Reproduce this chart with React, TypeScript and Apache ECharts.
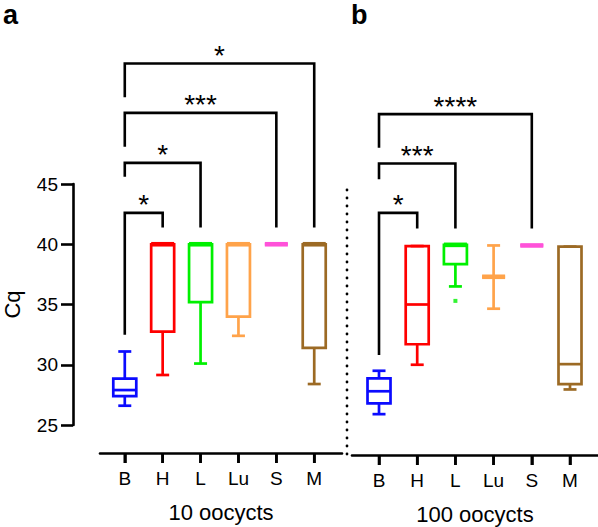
import React, { useEffect, useRef } from "react";
import * as echarts from "echarts";

const categories = ["B", "H", "L", "Lu", "S", "M"];
const yMin = 25;
const yMax = 45;
const yStep = 5;

// [whisker low, Q1, median, Q3, whisker high]
const boxes10 = [
  [26.6, 27.4, 27.9, 28.85, 31.1],
  [29.15, 32.75, 40, 40, 40],
  [30.1, 35.2, 40, 40, 40],
  [32.4, 34.0, 40, 40, 40],
  [40, 40, 40, 40, 40],
  [28.4, 31.4, 40, 40, 40],
];
const boxes100 = [
  [25.9, 26.8, 27.8, 28.87, 29.5],
  [30.0, 31.7, 35.0, 39.85, 39.85],
  [36.5, 38.35, 39.95, 39.95, 39.95],
  [34.65, 37.3, 37.3, 37.3, 39.9],
  [39.9, 39.9, 39.9, 39.9, 39.9],
  [27.95, 28.4, 30.05, 39.8, 39.8],
];
// [category index, value]
const outliers100 = [[2, 35.3]];

// [from index, to index, bar level, left end, right end]
const brackets10 = [
  [0, 1, 42.6, 32.5, 41.4],
  [0, 2, 46.75, 45.6, 41.4],
  [0, 4, 50.9, 48.1, 41.4],
  [0, 5, 55.0, 52.2, 41.4],
];
const stars10 = ["*", "*", "***", "*"];
const brackets100 = [
  [0, 1, 42.6, 30.8, 41.3],
  [0, 2, 46.7, 45.4, 41.3],
  [0, 4, 50.8, 48.0, 41.3],
];
const stars100 = ["*", "***", "****"];

const colors = ["#0b0bff", "#ff0000", "#00f000", "#ffa34a", "#ff52d9", "#9c6a24"];
const FONT = "'Liberation Sans', Arial, Helvetica, sans-serif";
const BLACK = "#000";
const AXIS_W = 2.6;

const boxRender = (params: any, api: any) => {
  const x = api.value(0);
  const lo = api.value(1);
  const q1 = api.value(2);
  const med = api.value(3);
  const q3 = api.value(4);
  const hi = api.value(5);
  const cx = api.coord([x, med])[0];
  const py = (v: number) => api.coord([x, v])[1];
  const yLo = py(lo), yQ1 = py(q1), yMed = py(med), yQ3 = py(q3), yHi = py(hi);
  const hb = 11.5;
  const hc = 6.5;
  const color = colors[Math.round(x)];
  const lw = 2.7;
  const st = { stroke: color, lineWidth: lw, fill: "none" };
  const thick = Math.abs(med - q3) < 0.05 || Math.abs(med - q1) < 0.05;
  return {
    type: "group",
    children: [
      { type: "line", shape: { x1: cx, y1: yQ3, x2: cx, y2: yHi }, style: st },
      { type: "line", shape: { x1: cx, y1: yQ1, x2: cx, y2: yLo }, style: st },
      { type: "line", shape: { x1: cx - hc, y1: yHi, x2: cx + hc, y2: yHi }, style: st },
      { type: "line", shape: { x1: cx - hc, y1: yLo, x2: cx + hc, y2: yLo }, style: st },
      { type: "rect", shape: { x: cx - hb, y: yQ3, width: hb * 2, height: yQ1 - yQ3 }, style: st },
      {
        type: "line",
        shape: { x1: cx - hb, y1: yMed, x2: cx + hb, y2: yMed },
        style: { ...st, lineWidth: thick ? 4.6 : lw },
      },
    ],
  };
};

const bracketRender = (labels: string[]) => (params: any, api: any) => {
  const a = api.value(0);
  const b = api.value(1);
  const lvl = api.value(2);
  const l = api.value(3);
  const r = api.value(4);
  const p1 = api.coord([a, l]);
  const p2 = api.coord([a, lvl]);
  const p3 = api.coord([b, lvl]);
  const p4 = api.coord([b, r]);
  return {
    type: "group",
    children: [
      {
        type: "polyline",
        shape: { points: [p1, p2, p3, p4] },
        style: { stroke: BLACK, lineWidth: 2.6, fill: "none", lineJoin: "miter" },
      },
      {
        type: "text",
        x: (p2[0] + p3[0]) / 2,
        y: p2[1] - 8,
        style: {
          text: labels[params.dataIndex],
          fill: BLACK,
          fontSize: 28,
          fontFamily: FONT,
          align: "center",
          verticalAlign: "middle",
        },
      },
    ],
  };
};

// tick marks on the category positions, hanging below the offset axis line
const tickRender = (offset: number) => (params: any, api: any) => {
  const p = api.coord([api.value(0), yMin]);
  return {
    type: "line",
    shape: { x1: p[0], y1: p[1] + offset, x2: p[0], y2: p[1] + offset + 10 },
    style: { stroke: BLACK, lineWidth: AXIS_W },
  };
};

const tickIdx = categories.map((_, i) => i);

const makeXAxis = (gridIndex: number, min: number, max: number, offset: number, name: string) => ({
  gridIndex,
  type: "value",
  min,
  max,
  offset,
  axisLine: { show: true, onZero: false, lineStyle: { color: BLACK, width: AXIS_W } },
  axisTick: { show: true, length: 10, customValues: tickIdx, lineStyle: { color: BLACK, width: AXIS_W } },
  axisLabel: {
    customValues: tickIdx,
    formatter: (v: number) => categories[Math.round(v)] ?? "",
    color: BLACK,
    fontSize: 19,
    fontFamily: FONT,
    margin: 16,
  },
  splitLine: { show: false },
  name,
  nameLocation: "middle",
  nameGap: 48,
  nameTextStyle: { color: BLACK, fontSize: 22, fontFamily: FONT },
});

export default function App() {
  const ref = useRef<HTMLDivElement>(null);
  useEffect(() => {
    if (!ref.current) return;
    const chart = echarts.init(ref.current, undefined, { renderer: "svg" });
    chart.setOption({
      animation: false,
      backgroundColor: "#fff",
      grid: [
        { left: 98, right: 256, top: 184, bottom: 102 },
        { left: 352, right: 0, top: 184, bottom: 102 },
      ],
      xAxis: [
        makeXAxis(0, -0.654, 5.733, 28, "10 oocycts"),
        makeXAxis(1, -0.707, 5.733, 30, "100 oocycts"),
      ],
      yAxis: [
        {
          gridIndex: 0,
          type: "value",
          min: yMin,
          max: yMax,
          interval: yStep,
          offset: 27,
          axisLine: { show: true, onZero: false, lineStyle: { color: BLACK, width: AXIS_W } },
          axisTick: { show: true, length: 12, lineStyle: { color: BLACK, width: AXIS_W } },
          axisLabel: { color: BLACK, fontSize: 19, fontFamily: FONT, margin: 15 },
          splitLine: { show: false },
          name: "Cq",
          nameLocation: "middle",
          nameGap: 50,
          nameTextStyle: { color: BLACK, fontSize: 22, fontFamily: FONT },
        },
        { gridIndex: 1, type: "value", min: yMin, max: yMax, interval: yStep, show: false },
      ],
      series: [
        {
          type: "custom",
          xAxisIndex: 0,
          yAxisIndex: 0,
          clip: false,
          renderItem: tickRender(28),
          encode: { x: 0 },
          data: tickIdx.map((i) => [i]),
        },
        {
          type: "custom",
          xAxisIndex: 1,
          yAxisIndex: 1,
          clip: false,
          renderItem: tickRender(30),
          encode: { x: 0 },
          data: tickIdx.map((i) => [i]),
        },
        {
          type: "custom",
          xAxisIndex: 0,
          yAxisIndex: 0,
          renderItem: boxRender,
          encode: { x: 0, y: [1, 2, 3, 4, 5] },
          data: boxes10.map((b, i) => [i, ...b]),
        },
        {
          type: "custom",
          xAxisIndex: 1,
          yAxisIndex: 1,
          renderItem: boxRender,
          encode: { x: 0, y: [1, 2, 3, 4, 5] },
          data: boxes100.map((b, i) => [i, ...b]),
        },
        {
          type: "scatter",
          xAxisIndex: 1,
          yAxisIndex: 1,
          symbol: "rect",
          symbolSize: 4,
          itemStyle: { color: colors[2] },
          data: outliers100,
        },
        {
          type: "custom",
          xAxisIndex: 0,
          yAxisIndex: 0,
          clip: false,
          renderItem: bracketRender(stars10),
          encode: { x: [0, 1], y: [2, 3, 4] },
          data: brackets10,
        },
        {
          type: "custom",
          xAxisIndex: 1,
          yAxisIndex: 1,
          clip: false,
          renderItem: bracketRender(stars100),
          encode: { x: [0, 1], y: [2, 3, 4] },
          data: brackets100,
        },
      ],
      graphic: [
        {
          type: "text",
          left: 3,
          top: 1,
          style: { text: "a", fill: BLACK, fontSize: 27, fontWeight: "bold", fontFamily: FONT },
        },
        {
          type: "text",
          left: 351,
          top: 1,
          style: { text: "b", fill: BLACK, fontSize: 27, fontWeight: "bold", fontFamily: FONT },
        },
        {
          type: "line",
          shape: { x1: 347, y1: 190, x2: 347, y2: 457 },
          style: { stroke: BLACK, lineWidth: 2.8, lineDash: [0.1, 7.9], lineCap: "round" },
        },
      ],
    });
    return () => chart.dispose();
  }, []);
  return (
    <div
      ref={ref}
      style={{ position: "fixed", left: 0, top: 0, width: 598, height: 527, background: "#fff" }}
    />
  );
}
